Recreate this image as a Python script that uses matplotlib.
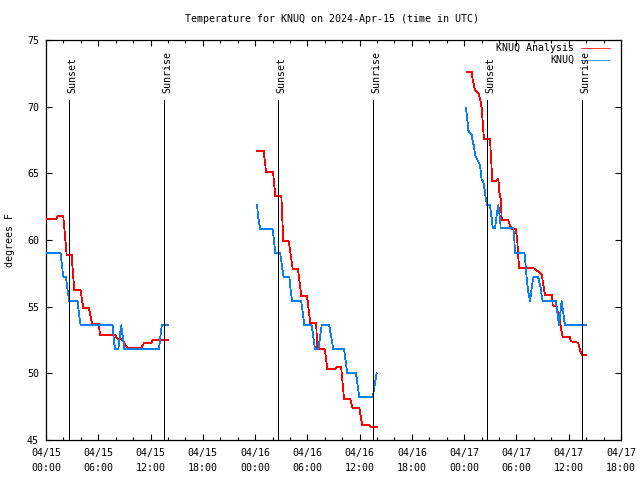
import matplotlib
matplotlib.use("Agg")
import matplotlib.pyplot as plt
from matplotlib.ticker import MultipleLocator, FixedLocator
import matplotlib.transforms as mtransforms

plt.rcParams['font.family'] = ['DejaVu Sans Mono', 'DejaVu Sans']
FS = 7.2

# ---------------- data (hours since 2024-04-15 00:00 UTC, degrees F) ----------------
title = "Temperature for KNUQ on 2024-Apr-15 (time in UTC)"
ylabel = "degrees F"
tick_hours = [0, 6, 12, 18, 24, 30, 36, 42, 48, 54, 60, 66]
tick_labels = ["04/15\n00:00", "04/15\n06:00", "04/15\n12:00", "04/15\n18:00",
               "04/16\n00:00", "04/16\n06:00", "04/16\n12:00", "04/16\n18:00",
               "04/17\n00:00", "04/17\n06:00", "04/17\n12:00", "04/17\n18:00"]
ytick_vals = [45, 50, 55, 60, 65, 70, 75]

event_hours = [2.67, 13.58, 26.66, 37.57, 50.62, 61.56]
event_names = ["Sunset", "Sunrise", "Sunset", "Sunrise", "Sunset", "Sunrise"]

series_names = ["KNUQ Analysis", "KNUQ"]

# KNUQ Analysis (red), three segments
ana_h1 = [0.08, 1.14, 1.34, 1.98, 2.37, 2.94, 3.24, 3.97, 4.27, 4.92, 5.30, 6.06, 6.21, 7.92, 8.30, 8.72, 9.33, 10.91, 11.28, 12.13, 12.24, 13.97]
ana_t1 = [61.55, 61.55, 61.8, 61.8, 58.9, 58.9, 56.25, 56.25, 54.9, 54.9, 53.7, 53.7, 52.85, 52.85, 52.55, 52.55, 51.9, 51.9, 52.3, 52.3, 52.5, 52.5]
ana_h2 = [24.22, 24.99, 25.26, 26.06, 26.32, 27.01, 27.24, 27.86, 28.32, 28.93, 29.30, 29.96, 30.34, 31.01, 31.14, 32.01, 32.29, 33.21, 33.41, 33.87, 34.21, 34.90, 35.20, 35.96, 36.30, 37.11, 37.33, 37.95]
ana_t2 = [66.67, 66.67, 65.1, 65.1, 63.3, 63.3, 59.9, 59.9, 57.8, 57.8, 55.8, 55.8, 53.75, 53.75, 51.8, 51.8, 50.3, 50.3, 50.5, 50.5, 48.1, 48.1, 47.4, 47.4, 46.1, 46.1, 45.95, 45.95]
ana_h3 = [48.29, 48.87, 48.98, 49.24, 49.51, 49.70, 49.82, 50.01, 50.12, 50.27, 50.96, 51.09, 51.23, 51.66, 51.92, 52.03, 52.19, 52.31, 53.06, 53.26, 53.45, 53.94, 54.10, 54.22, 54.33, 55.93, 56.70, 56.90, 57.09, 57.28, 58.05, 58.16, 58.62, 58.80, 59.00, 59.19, 59.31, 60.15, 60.23, 61.10, 61.29, 61.49, 61.98]
ana_t3 = [72.6, 72.6, 72.0, 71.25, 71.1, 70.9, 70.6, 69.9, 68.9, 67.6, 67.6, 66.1, 64.4, 64.4, 64.6, 63.6, 63.1, 61.5, 61.5, 61.1, 60.8, 60.8, 59.9, 58.6, 57.9, 57.9, 57.55, 57.4, 56.6, 55.9, 55.9, 55.1, 55.0, 54.4, 53.9, 53.1, 52.7, 52.7, 52.4, 52.3, 51.75, 51.4, 51.4]

# KNUQ observations (blue), three segments
obs_h1 = [0.08, 1.68, 1.98, 2.29, 2.44, 2.67, 3.63, 3.78, 3.97, 7.66, 7.81, 7.96, 8.30, 8.41, 8.64, 8.99, 12.97, 13.08, 13.29, 13.97]
obs_t1 = [59.0, 59.0, 57.25, 57.25, 56.4, 55.4, 55.4, 54.5, 53.6, 53.6, 52.25, 51.8, 51.8, 52.5, 53.6, 51.8, 51.8, 52.5, 53.6, 53.6]
obs_h2 = [24.22, 24.38, 24.60, 26.02, 26.19, 26.32, 26.89, 27.09, 27.28, 27.93, 28.08, 28.24, 29.30, 29.48, 29.65, 30.50, 30.88, 31.26, 31.64, 32.51, 32.98, 34.21, 34.59, 35.58, 35.96, 37.50, 37.95]
obs_t2 = [62.6, 61.6, 60.8, 60.8, 59.8, 59.0, 59.0, 58.0, 57.2, 57.2, 56.3, 55.4, 55.4, 54.5, 53.6, 53.6, 51.8, 51.8, 53.6, 53.6, 51.8, 51.8, 50.0, 50.0, 48.2, 48.2, 50.0]
obs_h3 = [48.21, 48.36, 48.48, 48.67, 48.87, 48.98, 49.13, 49.24, 49.44, 49.62, 49.82, 49.90, 50.01, 50.19, 50.39, 50.50, 50.65, 50.96, 51.16, 51.28, 51.54, 51.73, 51.92, 52.11, 52.19, 53.64, 53.75, 53.83, 54.93, 55.18, 55.36, 55.56, 55.75, 55.93, 56.50, 56.78, 56.90, 57.02, 58.54, 58.69, 58.88, 59.19, 59.57, 61.98]
obs_t3 = [69.9, 69.0, 68.25, 68.0, 67.9, 67.4, 67.0, 66.4, 66.1, 65.9, 65.6, 65.1, 64.5, 64.4, 63.6, 63.0, 62.6, 62.6, 61.6, 60.9, 60.9, 61.9, 62.6, 61.6, 60.9, 60.9, 60.1, 59.0, 59.0, 57.1, 56.1, 55.4, 56.4, 57.2, 57.2, 56.4, 55.75, 55.4, 55.4, 54.6, 53.6, 55.4, 53.6, 53.6]

RED = "#ff0000"
BLUE = "#0a7fef"

# ---------------- figure ----------------
fig = plt.figure(figsize=(6.4, 4.8), dpi=100)
W, H = 640.0, 480.0
ax = fig.add_axes([46 / W, 1 - 440 / H, 575 / W, 400 / H])

ax.set_xlim(0, 66)
ax.set_ylim(45, 75)

lw = 0.55
ana_segments = [(ana_h1, ana_t1), (ana_h2, ana_t2), (ana_h3, ana_t3)]
obs_segments = [(obs_h1, obs_t1), (obs_h2, obs_t2), (obs_h3, obs_t3)]
for i, (h, t) in enumerate(ana_segments):
    ax.plot(h, t, color=RED, lw=lw, label=series_names[0] if i == 0 else None,
            zorder=3, antialiased=False)
for i, (h, t) in enumerate(obs_segments):
    ax.plot(h, t, color=BLUE, lw=lw, label=series_names[1] if i == 0 else None,
            zorder=4, antialiased=False)

# sunset / sunrise markers
line_top = 70.5
label_base = 71.05
txt_off = mtransforms.offset_copy(ax.transData, fig=fig, x=3.2, y=0, units='dots')
for hh, name in zip(event_hours, event_names):
    ax.plot([hh, hh], [45, line_top], color="black", lw=0.55, zorder=5, antialiased=False)
    ax.text(hh, label_base, name, rotation=90, ha='center', va='bottom',
            fontsize=FS, transform=txt_off, zorder=6)

# ticks
ax.xaxis.set_major_locator(FixedLocator(tick_hours))
ax.set_xticklabels(tick_labels, linespacing=1.55)
ax.xaxis.set_minor_locator(MultipleLocator(2))
ax.yaxis.set_major_locator(FixedLocator(ytick_vals))
ax.tick_params(axis='both', which='both', direction='in', top=True, right=True,
               labelsize=FS, width=0.8, colors='black')
ax.tick_params(axis='both', which='major', length=4.0)
ax.tick_params(axis='x', which='minor', length=2.2)
ax.tick_params(axis='x', which='major', pad=6)
ax.tick_params(axis='y', which='major', pad=5)
for sp in ax.spines.values():
    sp.set_linewidth(0.9)
    sp.set_color('black')

fig.text(332 / W, 1 - 19 / H, title, ha='center', va='center', fontsize=FS)
fig.text(10 / W, 0.5, ylabel, rotation=90, ha='center', va='center', fontsize=FS)

leg = ax.legend(loc='upper right', bbox_to_anchor=(0.98, 0.992), frameon=False,
                markerfirst=False, fontsize=FS, handlelength=2.9, handletextpad=0.6,
                labelspacing=0.2, borderaxespad=0, borderpad=0)

fig.savefig("out.png", dpi=100)
